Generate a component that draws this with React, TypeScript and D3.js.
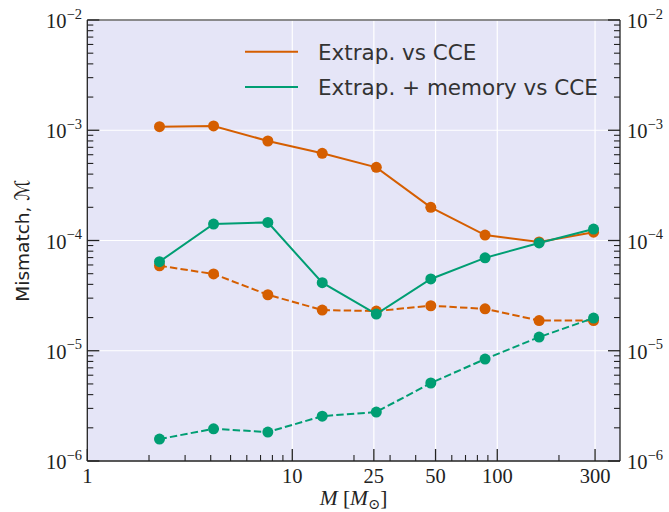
import React from "react";
import * as d3 from "d3";

const masses = [2.25, 4.13, 7.6, 14.0, 25.7, 47.4, 87.2, 160, 295];
const extrapVsCCE = [1.077e-3, 1.094e-3, 7.99e-4, 6.18e-4, 4.61e-4, 2.0e-4, 1.12e-4, 9.7e-5, 1.19e-4];
const memVsCCE = [6.43e-5, 1.41e-4, 1.46e-4, 4.14e-5, 2.15e-5, 4.48e-5, 6.96e-5, 9.5e-5, 1.27e-4];
const extrapVsCCEDashed = [5.9e-5, 4.97e-5, 3.22e-5, 2.34e-5, 2.29e-5, 2.56e-5, 2.4e-5, 1.88e-5, 1.88e-5];
const memVsCCEDashed = [1.58e-6, 1.96e-6, 1.83e-6, 2.55e-6, 2.78e-6, 5.1e-6, 8.4e-6, 1.33e-5, 1.98e-5];

const xMajorTicks = [1, 10, 25, 50, 100, 300];
const xMajorLabels = ["1", "10", "25", "50", "100", "300"];
const xMinorTicks = [2, 3, 4, 5, 6, 7, 8, 9, 20, 30, 40, 60, 70, 80, 90, 200];
const yExponents = [-2, -3, -4, -5, -6];

const legendLabels = ["Extrap. vs CCE", "Extrap. + memory vs CCE"];

const ORANGE = "#d55e00";
const GREEN = "#009e73";
const BG = "#e5e5f7";
const AX = "#222";

export default function App() {
  const W = 669, H = 512;
  const L = 87.3, R = 620, T = 20, B = 461;
  const x = d3.scaleLog().domain([1, 397]).range([L, R]);
  const y = d3.scaleLog().domain([1e-6, 1e-2]).range([B, T]);

  const line = d3.line<[number, number]>().x((d) => x(d[0])).y((d) => y(d[1]));
  const pts = (vals: number[]) => masses.map((m, i) => [m, vals[i]] as [number, number]);

  const yMinor: number[] = [];
  for (let e = -6; e < -2; e++) for (let k = 2; k <= 9; k++) yMinor.push(k * Math.pow(10, e));

  const series = [
    { vals: extrapVsCCE, color: ORANGE, dash: undefined },
    { vals: extrapVsCCEDashed, color: ORANGE, dash: "7.4,3.2" },
    { vals: memVsCCE, color: GREEN, dash: undefined },
    { vals: memVsCCEDashed, color: GREEN, dash: "7.4,3.2" },
  ];

  const serif = "'Liberation Serif', 'DejaVu Serif', serif";
  const sans = "'DejaVu Sans', 'Open Sans', sans-serif";

  return (
    <svg width={W} height={H} style={{ position: "absolute", left: 0, top: 0 }}>
      <rect x={0} y={0} width={W} height={H} fill="#fff" />
      <rect x={L} y={T} width={R - L} height={B - T} fill={BG} />
      {/* grid */}
      {xMajorTicks.map((t) => (
        <line key={"gx" + t} x1={x(t)} x2={x(t)} y1={T} y2={B} stroke="#fff" strokeWidth={1.2} />
      ))}
      {yExponents.map((e) => (
        <line key={"gy" + e} x1={L} x2={R} y1={y(Math.pow(10, e))} y2={y(Math.pow(10, e))} stroke="#fff" strokeWidth={1.2} />
      ))}
      {/* series */}
      {series.map((s, i) => (
        <g key={"s" + i}>
          <path d={line(pts(s.vals)) || ""} fill="none" stroke={s.color} strokeWidth={2} strokeDasharray={s.dash} />
          {pts(s.vals).map((p, j) => (
            <circle key={j} cx={x(p[0])} cy={y(p[1])} r={5.5} fill={s.color} />
          ))}
        </g>
      ))}
      {/* spines */}
      <line x1={L} x2={R} y1={T} y2={T} stroke="#666" strokeWidth={1.3} />
      <line x1={L} x2={L} y1={T} y2={B} stroke={AX} strokeWidth={1.3} />
      <line x1={R} x2={R} y1={T} y2={B} stroke={AX} strokeWidth={1.3} />
      <line x1={L} x2={R} y1={B} y2={B} stroke={AX} strokeWidth={1.3} />
      {/* x ticks */}
      {xMajorTicks.map((t, i) => (
        <g key={"xt" + t}>
          <line x1={x(t)} x2={x(t)} y1={B} y2={B - 12} stroke={AX} strokeWidth={1.3} />
          <text x={x(t)} y={483} textAnchor="middle" fontFamily={serif} fontSize={20.5} fill={AX}>
            {xMajorLabels[i]}
          </text>
        </g>
      ))}
      {xMinorTicks.map((t) => (
        <line key={"xm" + t} x1={x(t)} x2={x(t)} y1={B} y2={B - 6} stroke={AX} strokeWidth={1.1} />
      ))}
      {/* y ticks both sides */}
      {yExponents.map((e) => {
        const yy = y(Math.pow(10, e));
        return (
          <g key={"yt" + e}>
            <line x1={L} x2={L + 12} y1={yy} y2={yy} stroke={AX} strokeWidth={1.3} />
            <line x1={R} x2={R - 12} y1={yy} y2={yy} stroke={AX} strokeWidth={1.3} />
            <text x={82} y={yy + 8} textAnchor="end" fontFamily={serif} fontSize={20.5} fill={AX}>
              10<tspan dy={-9.5} fontSize={14.5}>{"\u2212" + Math.abs(e)}</tspan>
            </text>
            <text x={627} y={yy + 8} textAnchor="start" fontFamily={serif} fontSize={20.5} fill={AX}>
              10<tspan dy={-9.5} fontSize={14.5}>{"\u2212" + Math.abs(e)}</tspan>
            </text>
          </g>
        );
      })}
      {yMinor.map((v, i) => (
        <g key={"ym" + i}>
          <line x1={L} x2={L + 6} y1={y(v)} y2={y(v)} stroke={AX} strokeWidth={1.1} />
          <line x1={R} x2={R - 6} y1={y(v)} y2={y(v)} stroke={AX} strokeWidth={1.1} />
        </g>
      ))}
      {/* axis labels */}
      <text x={353.5} y={505} textAnchor="middle" fontFamily={serif} fontSize={21.5} fill={AX}>
        <tspan fontStyle="italic">M</tspan>
        <tspan> [</tspan>
        <tspan fontStyle="italic">M</tspan>
        <tspan dy={4} fontSize={14.5}>{"\u2299"}</tspan>
        <tspan dy={-4}>]</tspan>
      </text>
      <text transform={`translate(29,${(T + B) / 2}) rotate(-90)`} textAnchor="middle" fontFamily={sans} fontSize={18.5} fill={AX}>
        Mismatch, <tspan fontFamily="'DejaVu Sans', sans-serif" fontSize={20}>{"\u2133"}</tspan>
      </text>
      {/* legend */}
      {legendLabels.map((lab, i) => {
        const ly = 51.7 + i * 35.3;
        return (
          <g key={"lg" + i}>
            <line x1={245} x2={298} y1={ly} y2={ly} stroke={i === 0 ? ORANGE : GREEN} strokeWidth={2} />
            <text x={318} y={ly + 8} fontFamily={sans} fontSize={21.5} fill="#333">
              {lab}
            </text>
          </g>
        );
      })}
    </svg>
  );
}
